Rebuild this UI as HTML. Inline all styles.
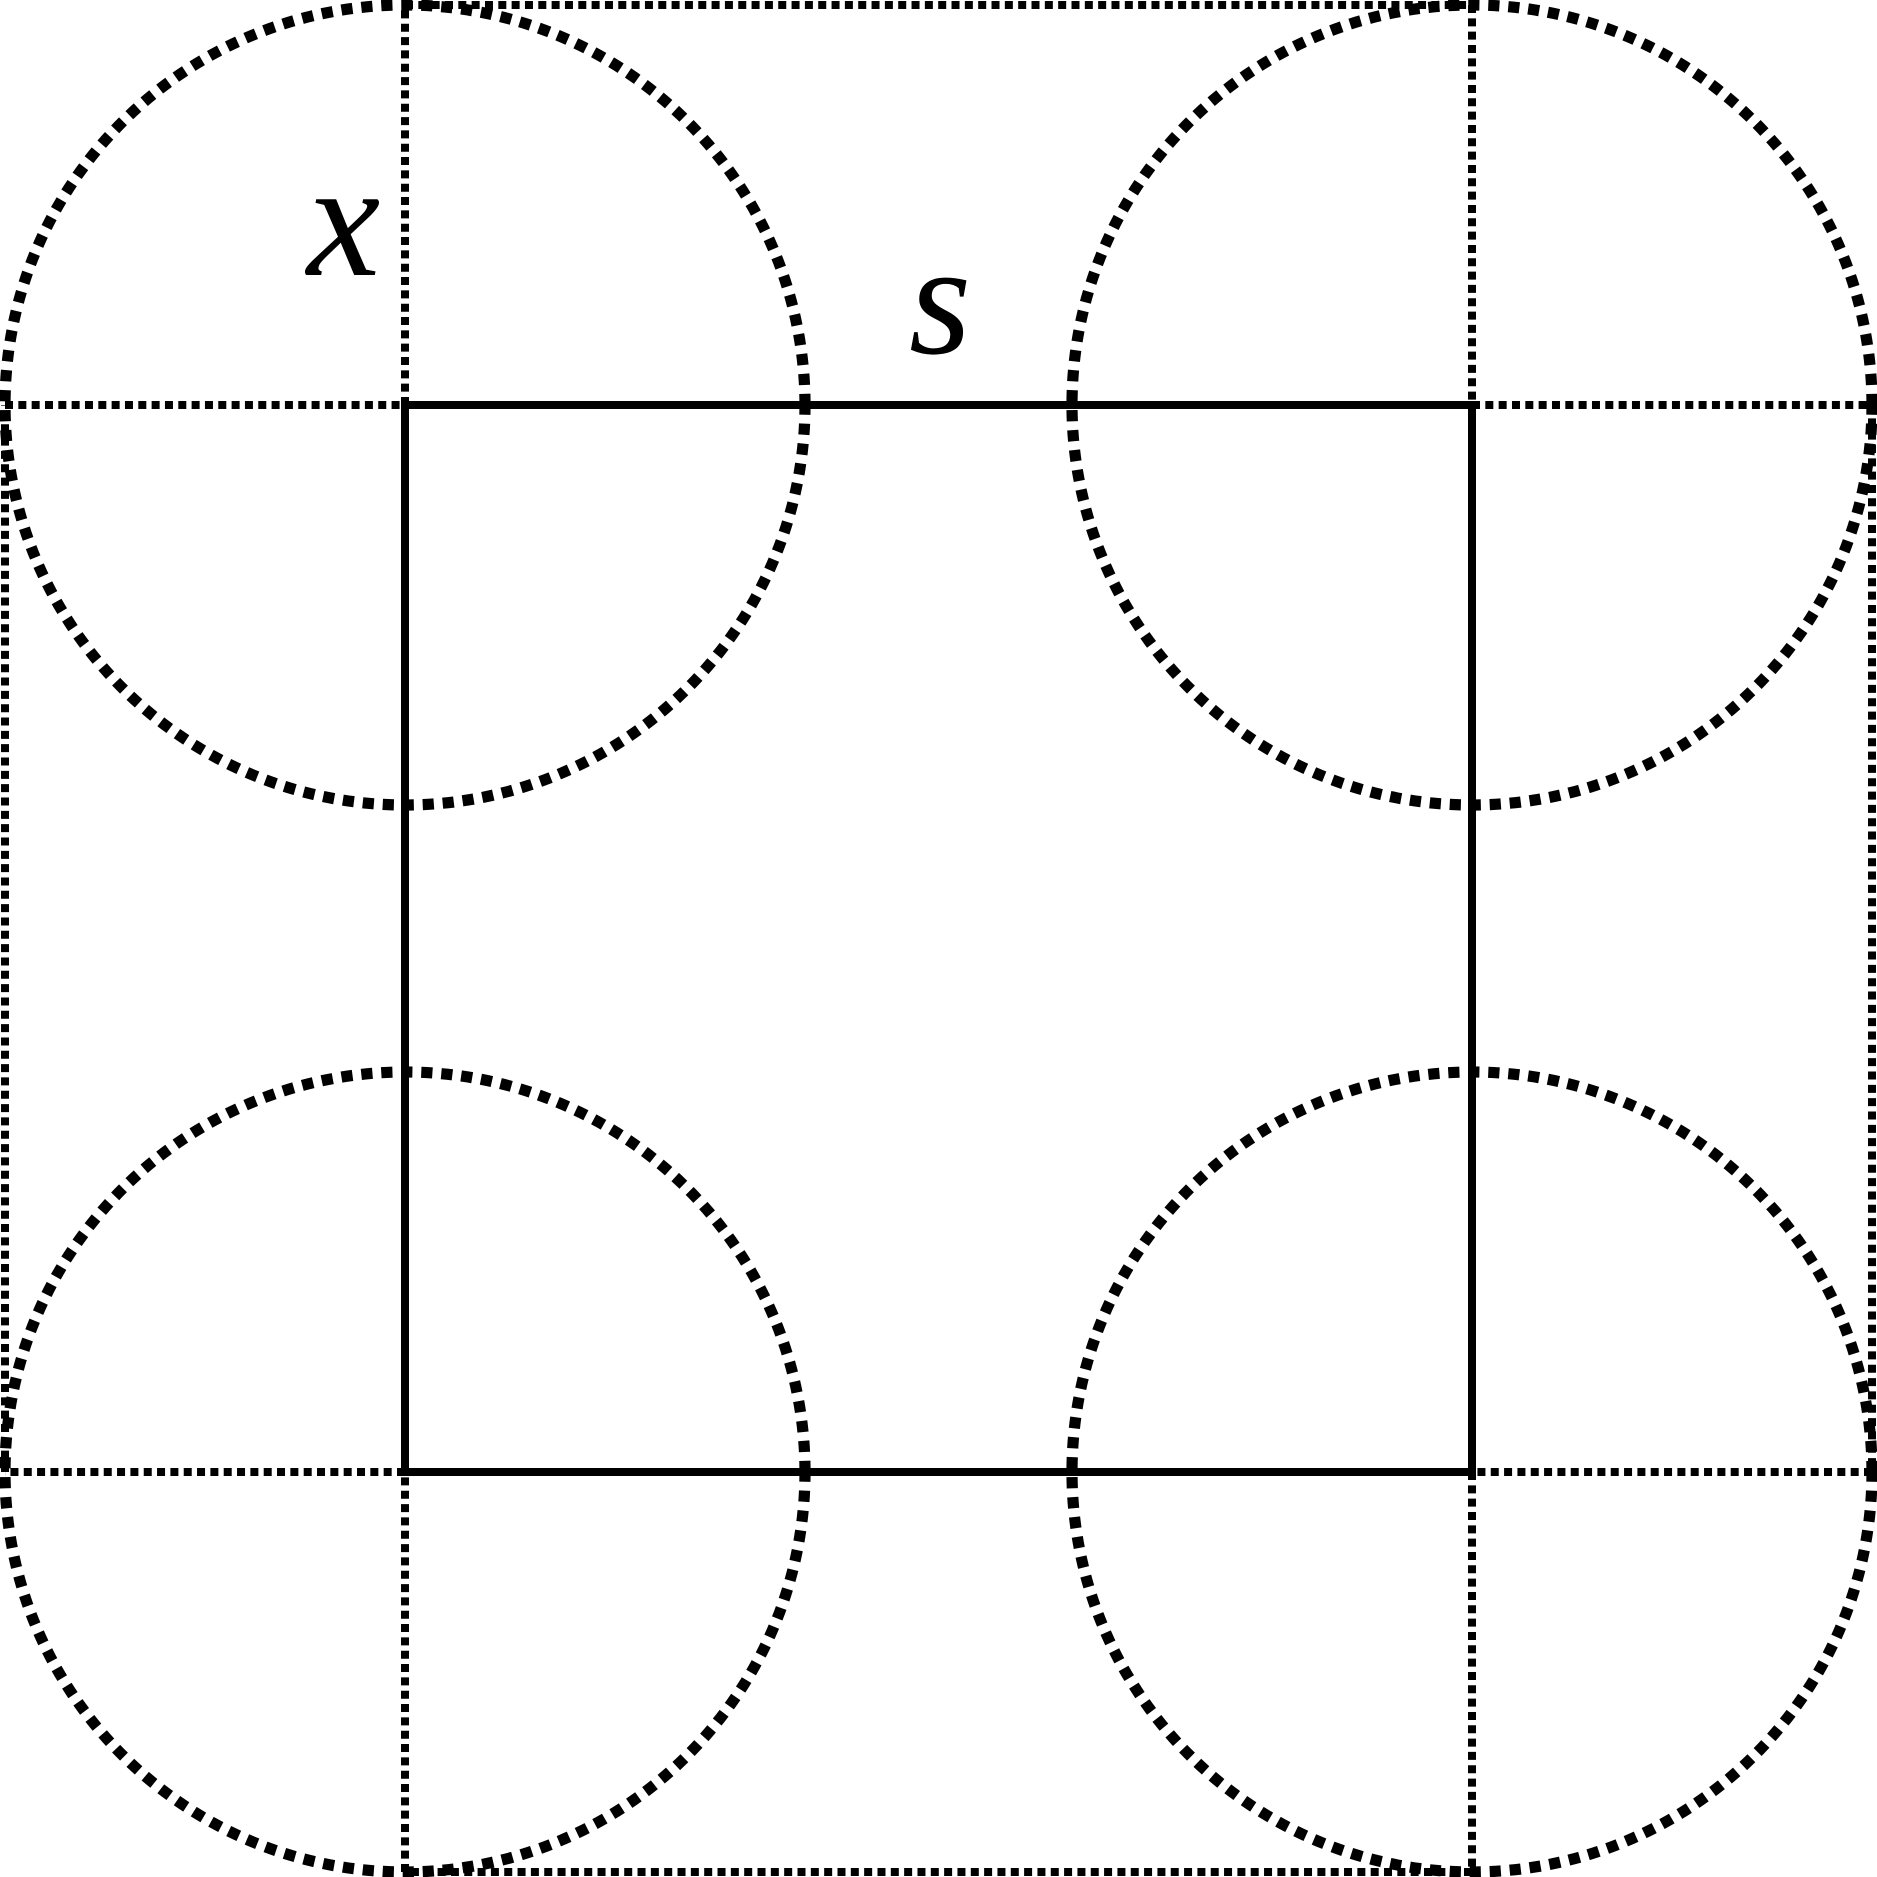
<!DOCTYPE html>
<html><head><meta charset="utf-8"><title>Square with corner circles</title>
<style>html,body{margin:0;padding:0;background:#fff}svg{display:block}</style></head>
<body>
<svg width="1877" height="1877" viewBox="0 0 1877 1877" xmlns="http://www.w3.org/2000/svg">
<rect width="1877" height="1877" fill="#fff"/>
<g fill="none" stroke="#000" stroke-width="8" stroke-dasharray="8 5.33">
<path d="M405 5H1472"/>
<path d="M1472 1872H405"/>
<path d="M5 1472V405"/>
<path d="M1872 405V1472"/>
<path d="M5 405H405"/>
<path d="M405 405V5"/>
<path d="M1472 405H1872"/>
<path d="M1472 5V405"/>
<path d="M405 1472H5"/>
<path d="M405 1872V1472"/>
<path d="M1872 1472H1472"/>
<path d="M1472 1472V1872"/>
</g>
<g fill="none" stroke="#000" stroke-width="11.2" stroke-dasharray="11.2 8.826">
<path d="M805 405A400 400 0 1 0 5 405A400 400 0 1 0 805 405"/>
<path d="M1872 405A400 400 0 1 0 1072 405A400 400 0 1 0 1872 405"/>
<path d="M805 1472A400 400 0 1 0 5 1472A400 400 0 1 0 805 1472"/>
<path d="M1872 1472A400 400 0 1 0 1072 1472A400 400 0 1 0 1872 1472"/>
</g>
<rect x="405" y="405" width="1067" height="1067" fill="none" stroke="#000" stroke-width="8"/>
<text x="307" y="275" font-family="'Liberation Serif',serif" font-style="italic" font-size="165" fill="#000">x</text>
<text x="909" y="353" font-family="'Liberation Serif',serif" font-style="italic" font-size="160" fill="#000">s</text>
</svg>
</body></html>
